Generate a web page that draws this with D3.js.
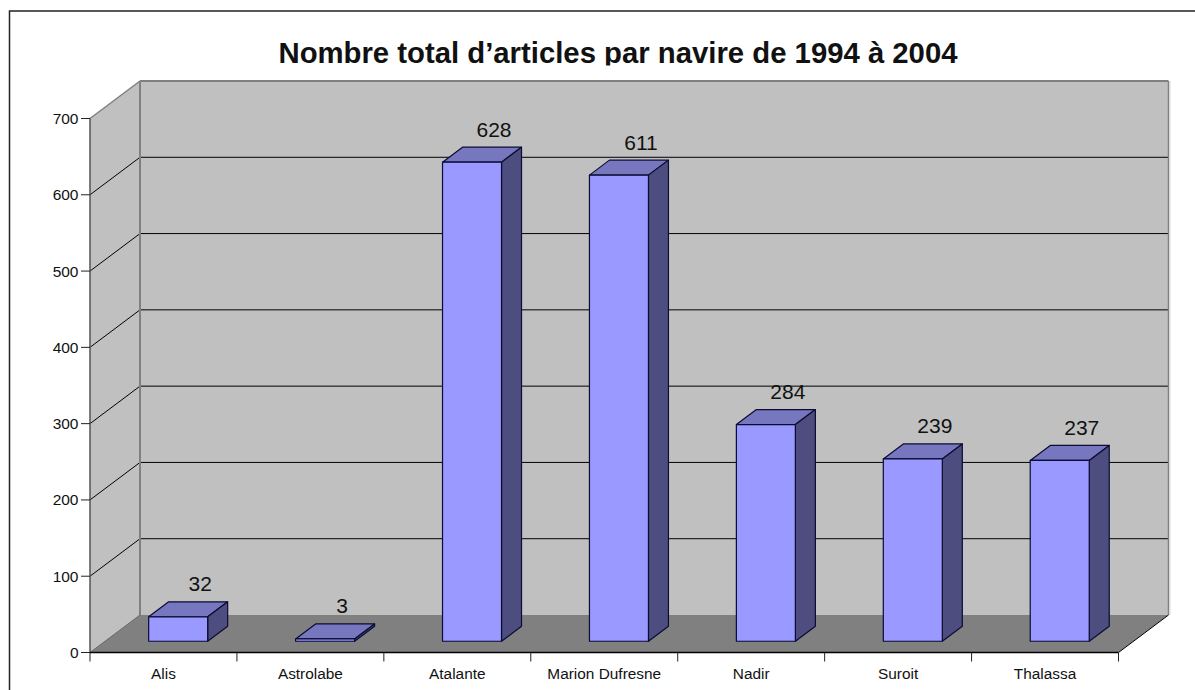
<!DOCTYPE html>
<html><head><meta charset="utf-8">
<script src="https://cdn.jsdelivr.net/npm/d3@7/dist/d3.min.js"></script>
<style>html,body{margin:0;padding:0;background:#fff}svg{display:block}text{font-family:"Liberation Sans",Arial,sans-serif;fill:#111}</style>
</head><body><svg id="c" width="1195" height="690"></svg>
<script>
const titleText = "Nombre total d’articles par navire de 1994 à 2004";
const categories = ["Alis","Astrolabe","Atalante","Marion Dufresne","Nadir","Suroit","Thalassa"];
const values = [32,3,628,611,284,239,237];
const yTicks = [0,100,200,300,400,500,600,700];

const svg = d3.select("#c");
const W = 1195, H = 690;
const x = d3.scaleBand().domain(categories).range([90,1118.5]).paddingInner(0).paddingOuter(0);
const y = d3.scaleLinear().domain([0,700]).range([652.5,118.5]);
// oblique projection: depth 0 = front plane, depth 1 = back wall
const DX = 50, DY = -37.5;
const P = (px,py,d=0)=>[px+DX*d, py+DY*d];
const poly = (pts,fill,stroke,sw)=>svg.append("polygon").attr("points",pts.map(p=>p.join(",")).join(" "))
  .attr("fill",fill).attr("stroke",stroke||"none").attr("stroke-width",sw||0).attr("stroke-linejoin","round");
const line = (a,b,stroke,sw)=>svg.append("line").attr("x1",a[0]).attr("y1",a[1]).attr("x2",b[0]).attr("y2",b[1]).attr("stroke",stroke).attr("stroke-width",sw);

// chart frame (runs off the right and bottom of the picture)
svg.append("rect").attr("x",9.5).attr("y",11).attr("width",W+20).attr("height",H+20).attr("fill","#fff").attr("stroke","#222").attr("stroke-width",1.5);

const [x0,x1] = x.range(), y0 = y(0), yT = y(700);
// walls
poly([P(x0,yT),P(x0,yT,1),P(x0,y0,1),P(x0,y0)],"#c0c0c0");
poly([P(x0,yT,1),P(x1,yT,1),P(x1,y0,1),P(x0,y0,1)],"#c0c0c0");
poly([P(x0,y0),P(x0,y0,1),P(x1,y0,1),P(x1,y0)],"#808080");
// gridlines
yTicks.slice(1,-1).forEach(t=>{
  line(P(x0,y(t)),P(x0,y(t),1),"#000",1);
  line(P(x0,y(t),1),P(x1,y(t),1),"#000",1);
});
// wall edges
line(P(x0,yT),P(x0,yT,1),"#808080",1.5);
line(P(x0,yT,1),P(x1,yT,1),"#808080",2);
line(P(x0,yT,1),P(x0,y0,1),"#808080",2);
line(P(x1,yT,1),P(x1,y0,1),"#808080",1.5);
line([P(x1,yT,1)[0]+1.5,P(x1,yT,1)[1]],[P(x1,y0,1)[0]+1.5,P(x1,y0,1)[1]],"#d8d8d8",1);
line(P(x0,y0),P(x0,y0,1),"#666",1);
line(P(x1,y0),P(x1,y0,1),"#000",1);
// axes
line([x0,yT],[x0,y0],"#555",1.5);
line([x0,y0],[x1,y0],"#000",1.5);
yTicks.forEach(t=>{
  line([x0-9,y(t)],[x0,y(t)],"#222",1);
  svg.append("text").attr("x",x0-11.5).attr("y",y(t)+5.5).attr("text-anchor","end").attr("font-size",15.5).text(t);
});
[...categories.map(c=>x(c)),x1].forEach(v=>line([v,y0],[v,y0+9],"#222",1));
categories.forEach(c=>svg.append("text").attr("x",x(c)+x.bandwidth()/2).attr("y",679).attr("text-anchor","middle").attr("font-size",15.4).text(c));

// bars
const bw = 59, dA = 0.3, dB = 0.7;
categories.forEach((c,i)=>{
  const v = values[i];
  const cx = x(c)+x.bandwidth()/2-0.3, l = cx-bw/2, r = cx+bw/2;
  const top = y(v);
  const s = "#0b0b33";
  poly([P(l,top,dB),P(r,top,dB),P(r,top,dA),P(l,top,dA)],"#7777bf",s,1.2);
  poly([P(r,top,dA),P(r,top,dB),P(r,y0,dB),P(r,y0,dA)],"#4d4d80",s,1.2);
  poly([P(l,top,dA),P(r,top,dA),P(r,y0,dA),P(l,y0,dA)],"#9999ff",s,1.2);
  const lab = P(cx,top,dB);
  const nudge = String(v).length === 1 ? -3 : 2; // single-digit label sits further left
  svg.append("text").attr("x",lab[0]+nudge).attr("y",lab[1]-10.5).attr("text-anchor","middle").attr("font-size",21).text(v);
});
// title is cut just below its baseline, as in the source image
svg.append("clipPath").attr("id","tc").append("rect").attr("x",0).attr("y",20).attr("width",W).attr("height",45.5);
svg.append("text").attr("clip-path","url(#tc)").attr("x",618).attr("y",62.5).attr("text-anchor","middle").attr("font-size",29.3).attr("font-weight","bold").text(titleText);
</script></body></html>
